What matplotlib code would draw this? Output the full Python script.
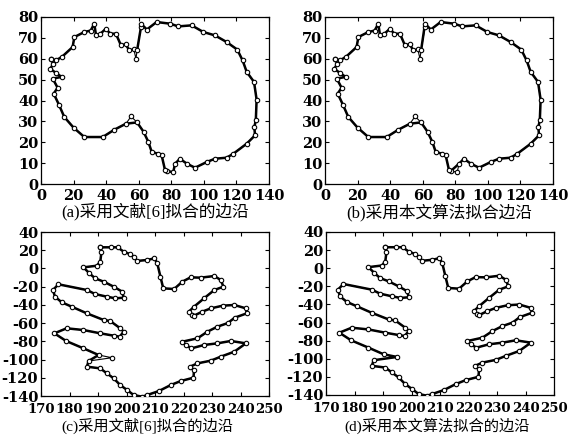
import matplotlib
matplotlib.use("Agg")
import matplotlib.pyplot as plt
import numpy as np

# ---- Data: boundary of shape 1 (panels a, b) ----
heart_x = [6.1, 9.2, 13.0, 19.4, 20.5, 26.6, 30.5, 32.7, 33.8, 36.5, 39.9, 42.5, 46.0, 49.1, 52.0, 54.2,
           57.0, 58.3, 59.0, 61.4, 61.4, 65.0, 71.0, 79.2, 84.3, 92.5, 99.7, 106.8, 114.0, 120.5, 123.8,
           126.3, 130.8, 132.4, 131.9, 131.0, 131.4, 126.3, 118.1, 114.0, 106.8, 101.7, 94.6, 89.6, 85.3,
           82.3, 81.2, 77.2, 76.2, 74.1, 72.0, 68.0, 66.0, 63.0, 59.0, 55.3, 52.2, 45.0, 37.9, 26.6, 20.0,
           14.3, 11.0, 7.8, 10.2, 7.2, 12.7, 9.5, 5.7, 7.6, 6.1]
heart_y = [60.0, 59.2, 61.0, 65.6, 70.4, 72.8, 73.5, 76.8, 71.2, 72.0, 74.4, 72.0, 72.0, 66.4, 67.0, 64.0,
           64.5, 60.0, 64.0, 75.2, 76.8, 74.0, 77.6, 76.8, 75.5, 76.0, 72.8, 71.2, 68.0, 64.4, 59.2,
           53.7, 48.9, 40.4, 30.5, 27.3, 23.3, 19.3, 14.5, 12.6, 12.1, 10.5, 7.8, 9.7, 12.1,
           9.7, 5.7, 6.2, 6.5, 13.7, 14.5, 15.3, 20.0, 25.0, 29.5, 32.4, 28.9, 26.0, 22.5, 22.5, 27.0,
           32.1, 38.0, 43.3, 46.1, 50.5, 51.3, 53.0, 55.2, 57.6, 60.0]

# ---- Data: boundary of shape 2 (panels c, d) ----
leaf_x = [190.8, 194.4, 196.9, 199.0, 201.4, 202.5, 203.7, 207.3, 209.8, 210.8,
          211.9, 212.9, 216.7, 219.6, 222.5, 226.1, 230.8, 233.1, 234.0, 230.8,
          227.2, 223.7, 221.9, 222.9, 223.7, 226.6, 229.6, 233.7, 237.8, 241.9,
          242.2, 238.0, 235.5, 231.9, 228.4, 224.9, 219.6, 220.8, 222.8, 227.2,
          231.9, 236.6, 241.9, 237.8, 233.1, 229.6, 224.9, 222.3, 223.7, 223.5,
          219.0, 215.5, 211.4, 207.3, 205.5, 202.5, 200.2, 197.8, 195.5, 193.1,
          190.8, 186.1, 186.7, 194.9, 190.2, 184.9, 178.8, 174.7, 179.0, 184.9,
          190.8, 195.5, 197.6, 199.0, 197.8, 194.3, 192.0, 186.1, 180.8, 177.3,
          174.9, 174.2, 176.1, 186.1, 189.0, 193.1, 196.1, 199.0, 198.5, 195.5,
          192.0, 189.0, 187.0, 184.9, 189.6, 190.8, 191.2, 190.8]
leaf_y = [23.2, 23.2, 23.2, 18.4, 15.5, 12.9, 8.2, 9.3, 11.1, 5.6,
          -9.0, -21.8, -22.6, -14.5, -9.8, -10.1, -8.3, -12.7, -20.0, -23.7,
          -32.8, -42.0, -47.4, -51.1, -51.8, -47.4, -43.8, -40.9, -40.1, -43.8,
          -49.3, -54.0, -60.0, -63.9, -69.4, -76.7, -80.4, -84.0, -87.7, -84.0,
          -82.2, -79.6, -82.2, -91.4, -96.8, -101.2, -104.2, -107.8, -111.5, -119.9,
          -123.6, -128.0, -134.5, -138.9, -140.8, -138.9, -133.4, -128.0, -120.6, -115.1,
          -109.7, -107.8, -101.6, -98.0, -95.0, -87.7, -79.6, -71.2, -65.7, -67.6,
          -71.2, -73.8, -74.9, -69.4, -65.7, -57.7, -56.6, -49.3, -42.0, -37.2,
          -31.0, -23.7, -17.4, -23.7, -28.1, -31.0, -32.8, -32.1, -25.5, -20.0,
          -14.5, -10.9, -5.4, 1.2, 3.0, 7.4, 17.7, 23.2]

# points left out of the fitted (thick) curve in each panel
skip_a = [17, 55]
skip_b = [17, 46, 55, 19]
skip_c = [63, 23]
skip_d = [23]

captions = ["(a)采用文献[6]拟合的边沿", "(b)采用本文算法拟合边沿",
            "(c)采用文献[6]拟合的边沿", "(d)采用本文算法拟合的边沿"]

ticks_ab_x = [0, 20, 40, 60, 80, 100, 120, 140]
ticks_ab_y = [0, 10, 20, 30, 40, 50, 60, 70, 80]
ticks_cd_x = [170, 180, 190, 200, 210, 220, 230, 240, 250]
ticks_cd_y = [40, 20, 0, -20, -40, -60, -80, -100, -120, -140]

W, H = 572, 438
fig = plt.figure(figsize=(W / 100, H / 100), dpi=100)

tick_font = ['DejaVu Serif']
cap_font = ['Liberation Serif', 'Noto Sans CJK SC']

panels = [
    # left, top, right, bottom (pixels)
    (41, 17, 269, 184),
    (325, 17, 553, 184),
    (41, 232, 269, 396),
    (326, 232, 554, 395),
]


def draw(ax, xs, ys, skip):
    xs = np.asarray(xs)
    ys = np.asarray(ys)
    keep = np.array([i not in skip for i in range(len(xs))])
    ax.plot(xs, ys, color='black', lw=0.8, zorder=2)
    ax.plot(xs[keep], ys[keep], color='black', lw=1.8, zorder=3,
            solid_joinstyle='round')
    ax.plot(xs, ys, linestyle='none', marker='o', markersize=3.2,
            markerfacecolor='white', markeredgecolor='black',
            markeredgewidth=0.8, zorder=4)


axes = []
for i, (l, t, r, b) in enumerate(panels):
    ax = fig.add_axes([l / W, 1 - b / H, (r - l) / W, (b - t) / H])
    axes.append(ax)
    for s in ax.spines.values():
        s.set_linewidth(0.9)
    ax.tick_params(direction='in', length=3, width=0.8, top=True, right=True)
    ax.tick_params(axis='x', pad=3.5 if i < 2 else 5)
    ax.tick_params(axis='y', pad=2)

draw(axes[0], heart_x, heart_y, skip_a)
draw(axes[1], heart_x, heart_y, skip_b)
draw(axes[2], leaf_x, leaf_y, skip_c)
draw(axes[3], leaf_x, leaf_y, skip_d)

for ax in axes[:2]:
    ax.set_xlim(0, 140)
    ax.set_ylim(0, 80)
    ax.set_xticks(ticks_ab_x)
    ax.set_yticks(ticks_ab_y)
for ax in axes[2:]:
    ax.set_xlim(170, 250)
    ax.set_ylim(-140, 40)
    ax.set_xticks(ticks_cd_x)
    ax.set_yticks(ticks_cd_y)

for k, ax in enumerate(axes):
    xs = 10.5 if k < 2 else 9.5
    ax.set_xticklabels([str(v) for v in ax.get_xticks()], family=tick_font,
                       fontweight='bold', fontsize=xs)
    ax.set_yticklabels([str(v) for v in ax.get_yticks()], family=tick_font,
                       fontweight='bold', fontsize=10.5)

cap_pos = [(155, 212), (439, 212), (147, 426), (437, 426)]
cap_size = [12, 12, 11, 11]
for (cx, cy), txt, fs in zip(cap_pos, captions, cap_size):
    fig.text(cx / W, 1 - cy / H, txt, ha='center', va='center',
             family=cap_font, fontsize=fs)

fig.savefig('out.png', dpi=100)
